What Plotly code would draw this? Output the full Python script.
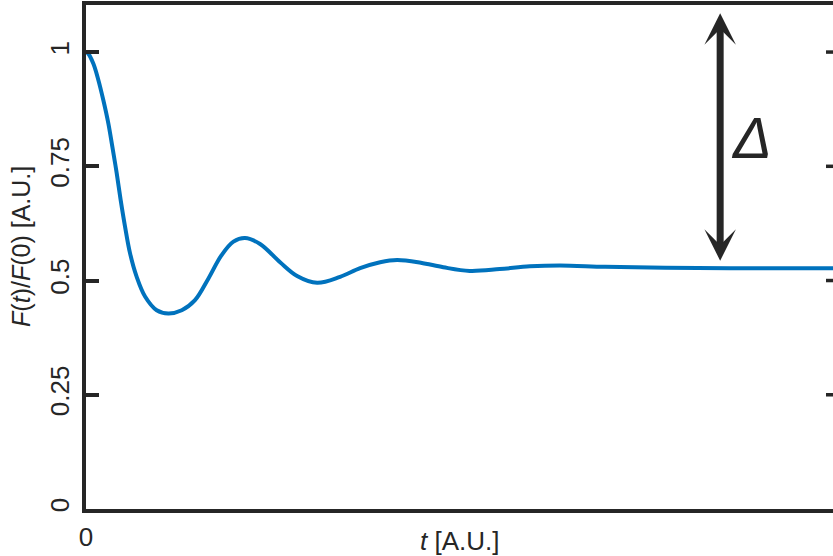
import plotly.graph_objects as go

# Normalised response F(t)/F(0) sampled along t (arbitrary units)
t_vals = [0.0, 0.023, 0.097, 0.164, 0.230, 0.297, 0.350, 0.408, 0.461, 0.519,
          0.585, 0.674, 0.785, 0.940, 1.094, 1.273, 1.449, 1.626, 1.800, 1.960,
          2.114, 2.314, 2.580, 2.806, 3.072, 3.378, 3.644, 3.910, 4.136, 4.450,
          4.750, 5.100, 5.500, 5.900, 6.300, 6.900, 7.700, 8.800, 10.0]
f_vals = [1.000, 0.998, 0.975, 0.939, 0.895, 0.844, 0.793, 0.735, 0.676, 0.618,
          0.560, 0.508, 0.465, 0.435, 0.428, 0.435, 0.457, 0.504, 0.555, 0.585,
          0.593, 0.580, 0.540, 0.510, 0.495, 0.508, 0.527, 0.540, 0.545, 0.539,
          0.529, 0.521, 0.525, 0.531, 0.533, 0.530, 0.528, 0.527, 0.527]

y_ticks = [0, 0.25, 0.5, 0.75, 1]
y_tick_text = ["0", "0.25", "0.5", "0.75", "1"]
x_ticks = [0]
x_tick_text = ["0"]

# Delta marker: spans from just above the plateau up to near the top frame
delta_t = 8.43
delta_low = 0.540
delta_high = 1.085

INK = "#262626"
FONT = "Liberation Sans, Arial, Helvetica, sans-serif"

fig = go.Figure()
fig.add_trace(go.Scatter(
    x=t_vals, y=f_vals, mode="lines",
    line=dict(color="#0072BD", width=4, shape="spline", smoothing=1.0),
    showlegend=False, hoverinfo="skip",
))

fig.update_layout(
    width=833, height=556,
    margin=dict(l=86, r=0, t=5, b=47),
    paper_bgcolor="white", plot_bgcolor="white",
    font=dict(family=FONT, color=INK),
    xaxis=dict(
        range=[0, 9.93], showgrid=False, zeroline=False,
        showline=True, linecolor=INK, linewidth=4, mirror=True,
        tickvals=x_ticks, ticktext=x_tick_text, ticks="",
        tickfont=dict(size=26, color=INK), ticklabelstandoff=2,
    ),
    yaxis=dict(
        range=[0, 1.103], showgrid=False, zeroline=False,
        showline=True, linecolor=INK, linewidth=4, mirror=False,
        tickvals=y_ticks, ticktext=y_tick_text,
        ticks="inside", ticklen=13, tickwidth=3.5, tickcolor=INK,
        tickangle=-90, tickfont=dict(size=26, color=INK),
        ticklabelstandoff=3,
    ),
)

# Inside ticks along the right-hand frame edge
for v in y_ticks[1:]:
    fig.add_shape(type="line", xref="paper", yref="y",
                  x0=1 - 7 / 747, x1=1.01, y0=v, y1=v,
                  line=dict(color=INK, width=3.5))

# Axis titles
fig.add_annotation(
    xref="paper", yref="paper", x=0.5, y=-0.064, yanchor="middle",
    text="<i>t</i> [A.U.]", showarrow=False,
    font=dict(size=26, color=INK, family=FONT),
)
fig.add_annotation(
    xref="paper", yref="paper", x=-0.087, y=0.52, xanchor="center",
    text="<i>F</i>(<i>t</i>)/<i>F</i>(0) [A.U.]", showarrow=False,
    textangle=-90, font=dict(size=25, color=INK, family=FONT),
)

# Double-headed Delta arrow
fig.add_annotation(
    x=delta_t, y=delta_high, ax=delta_t, ay=delta_low,
    xref="x", yref="y", axref="x", ayref="y",
    text="", showarrow=True, arrowside="end+start",
    arrowhead=3, startarrowhead=3, arrowsize=0.75, startarrowsize=0.75,
    arrowwidth=7, arrowcolor=INK,
)
fig.add_annotation(
    x=delta_t + 0.42, y=(delta_low + delta_high) / 2,
    xref="x", yref="y", text="<i>Δ</i>", showarrow=False,
    font=dict(size=58, color=INK, family=FONT),
)

fig.write_html("out.html")
